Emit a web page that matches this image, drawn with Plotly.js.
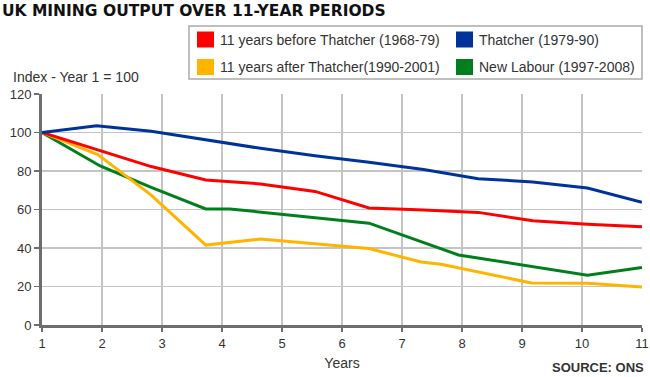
<!DOCTYPE html>
<html>
<head>
<meta charset="utf-8">
<script src="https://cdn.plot.ly/plotly-3.0.1.min.js"></script>
<style>
  html, body { margin: 0; padding: 0; background: #fff; }
  #chart { width: 650px; height: 377px; }
</style>
</head>
<body>
<div id="chart"></div>
<script>
// ---- Data ----
const chartTitle = "UK MINING OUTPUT OVER 11-YEAR PERIODS";
const yAxisLabel = "Index - Year 1 = 100";
const xAxisLabel = "Years";
const sourceText = "SOURCE: ONS";

const seriesNames = [
  "11 years before Thatcher (1968-79)",
  "Thatcher (1979-90)",
  "11 years after Thatcher(1990-2001)",
  "New Labour (1997-2008)"
];
const seriesColors = ["#ff0000", "#003399", "#ffb400", "#007f1c"];

const beforeYears = [1, 1.91, 2.82, 3.73, 4.64, 5.55, 6.45, 7.36, 8.27, 9.18, 10.09, 11];
const beforeValues = [100, 91.0, 82.3, 75.3, 73.3, 69.4, 60.8, 59.8, 58.5, 54.2, 52.4, 51.1];

const thatcherYears = [1, 1.91, 2.82, 3.73, 4.64, 5.55, 6.45, 7.36, 8.27, 9.18, 10.09, 11];
const thatcherValues = [100, 103.5, 100.6, 96.2, 91.8, 87.9, 84.6, 80.8, 76.0, 74.3, 71.2, 63.8];

const afterYears = [1, 1.93, 2.82, 3.73, 4.64, 5.55, 6.45, 7.32, 7.65, 9.16, 10.09, 11];
const afterValues = [100, 88.5, 67.5, 41.5, 44.7, 42.3, 39.7, 32.7, 31.6, 21.8, 21.7, 19.7];

const labourYears = [1, 1.97, 2.82, 3.73, 4.13, 5.55, 6.45, 7.94, 10.09, 11];
const labourValues = [100, 82.6, 71.5, 60.3, 60.3, 55.8, 52.9, 36.4, 25.8, 29.9];

const xTicks = [1, 2, 3, 4, 5, 6, 7, 8, 9, 10, 11];
const yTicks = [0, 20, 40, 60, 80, 100, 120];

// ---- Layout geometry ----
const W = 650, H = 377;
const M = { l: 42, r: 8, t: 94, b: 52 };
const plotW = W - M.l - M.r, plotH = H - M.t - M.b;
const px = x => (x - M.l) / plotW;          // pixel -> paper x
const py = y => (H - M.b - y) / plotH;      // pixel -> paper y

const xs = [beforeYears, thatcherYears, afterYears, labourYears];
const ys = [beforeValues, thatcherValues, afterValues, labourValues];

const traces = seriesNames.map((name, i) => ({
  type: "scatter",
  mode: "lines",
  name: name,
  x: xs[i],
  y: ys[i],
  line: { color: seriesColors[i], width: 3 },
  showlegend: false,
  hoverinfo: "skip"
}));
// draw order: green & yellow under red & blue like reference
const drawOrder = [3, 2, 0, 1].map(i => traces[i]);

const textFont = { family: "Liberation Sans, Arial, sans-serif", size: 14, color: "#333" };

// Legend (drawn manually to match square swatches in a two-column box)
const shapes = [{
  type: "rect", xref: "paper", yref: "paper",
  x0: px(189), x1: px(642), y0: py(79), y1: py(26),
  line: { color: "#aaaaaa", width: 1.5 }, fillcolor: "rgba(0,0,0,0)", layer: "above"
}];
const annotations = [];
const legendCols = [197, 456];
const legendRows = [39.5, 67];
const legendSlots = [[0, 0], [1, 0], [0, 1], [1, 1]];
seriesNames.forEach((name, i) => {
  const [c, r] = legendSlots[i];
  const sx = legendCols[c], sy = legendRows[r];
  shapes.push({
    type: "rect", xref: "paper", yref: "paper",
    x0: px(sx), x1: px(sx + 17), y0: py(sy + 8), y1: py(sy - 8),
    fillcolor: seriesColors[i], line: { width: 0 }, layer: "above"
  });
  annotations.push({
    xref: "paper", yref: "paper", x: px(sx + 21), y: py(sy),
    xanchor: "left", yanchor: "middle", showarrow: false,
    text: name, font: textFont
  });
});

annotations.push({
  xref: "paper", yref: "paper", x: px(11), y: py(77),
  xanchor: "left", yanchor: "middle", showarrow: false,
  text: yAxisLabel, font: textFont
});
annotations.push({
  xref: "paper", yref: "paper", x: px(645), y: py(367),
  xanchor: "right", yanchor: "middle", showarrow: false, borderpad: 0,
  text: "<b>" + sourceText + "</b>", font: { family: "Liberation Sans, Arial, sans-serif", size: 13, color: "#333" }
});

const layout = {
  width: W, height: H,
  margin: M,
  paper_bgcolor: "#ffffff",
  plot_bgcolor: "#ffffff",
  showlegend: false,
  title: {
    text: "<b>" + chartTitle + "</b>",
    font: { family: "DejaVu Sans, Verdana, sans-serif", size: 15.5, color: "#111" },
    xref: "container", yref: "container",
    x: 0.003, xanchor: "left", y: 1 - 10.5 / 377, yanchor: "middle",
    pad: { t: 0, l: 0, b: 0, r: 0 }
  },
  xaxis: {
    range: [1, 11],
    tickvals: xTicks,
    ticktext: xTicks.map(String),
    showgrid: true, gridcolor: "#c4c4c4", gridwidth: 1.5,
    showline: true, linecolor: "#6e6e6e", linewidth: 3,
    ticks: "outside", ticklen: 4, tickcolor: "#6e6e6e", tickwidth: 1.5,
    tickfont: { family: "Liberation Sans, Arial, sans-serif", size: 13, color: "#333" },
    zeroline: false,
    fixedrange: true,
    title: { text: xAxisLabel, font: textFont, standoff: 9 }
  },
  yaxis: {
    range: [0, 120],
    tickvals: yTicks,
    ticktext: yTicks.map(String),
    showgrid: true, gridcolor: "#c4c4c4", gridwidth: 1.5,
    showline: true, linecolor: "#6e6e6e", linewidth: 3,
    ticks: "outside", ticklen: 5, tickcolor: "#6e6e6e", tickwidth: 1.5,
    tickfont: { family: "Liberation Sans, Arial, sans-serif", size: 13, color: "#333" },
    zeroline: false,
    fixedrange: true
  },
  shapes: shapes,
  annotations: annotations
};

Plotly.newPlot("chart", drawOrder, layout, { staticPlot: true, displayModeBar: false });
</script>
</body>
</html>
